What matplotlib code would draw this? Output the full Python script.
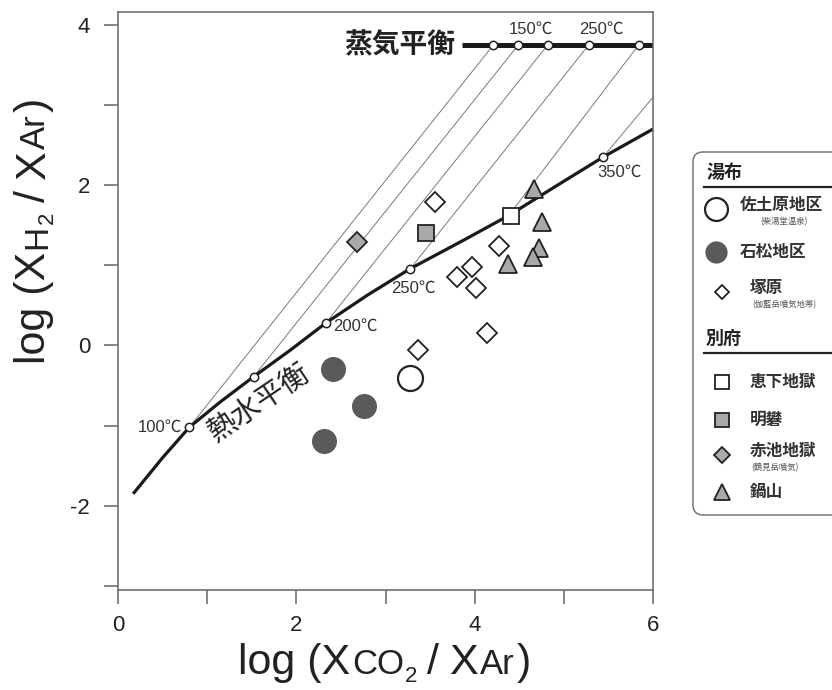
import numpy as np
import matplotlib
matplotlib.use("Agg")
import matplotlib.pyplot as plt
from matplotlib.patches import FancyBboxPatch

plt.rcParams['font.family'] = ['Liberation Sans', 'Noto Sans CJK JP', 'DejaVu Sans']
JP = ['Noto Sans CJK JP', 'DejaVu Sans']
W, H = 832, 690

# hydrothermal equilibrium curve
hydro_x = [0.17, 0.50, 0.80, 1.14, 1.52, 1.93, 2.33, 2.80, 3.28, 3.87, 4.38, 4.90, 5.44, 6.00]
hydro_y = [-1.85, -1.40, -1.02, -0.71, -0.39, -0.06, 0.28, 0.63, 0.96, 1.31, 1.62, 1.98, 2.35, 2.70]

# temperature points on both equilibria
temps = [100, 150, 200, 250, 300, 350]
hyd_tx = [0.80, 1.52, 2.33, 3.28, 4.38, 5.44]
hyd_ty = [-1.02, -0.39, 0.28, 0.96, 1.62, 2.35]
steam_tx = [4.21, 4.49, 4.82, 5.28, 5.84, 6.49]
steam_y = 3.75
steam_line_x = [3.86, 6.0]

# samples
sadohara_x, sadohara_y = [3.28], [-0.40]
ishimatsu_x, ishimatsu_y = [2.41, 2.76, 2.31], [-0.29, -0.76, -1.19]
tsukahara_x = [3.55, 4.27, 3.97, 3.80, 4.01, 3.36, 4.14]
tsukahara_y = [1.79, 1.24, 0.98, 0.86, 0.72, -0.05, 0.15]
ekeshita_x, ekeshita_y = [4.41], [1.62]
myoban_x, myoban_y = [3.45], [1.40]
akaike_x, akaike_y = [2.68], [1.29]
nabeyama_x = [4.67, 4.75, 4.72, 4.65, 4.37]
nabeyama_y = [1.95, 1.54, 1.22, 1.10, 1.02]

xticks = [0, 1, 2, 3, 4, 5, 6]
xticklabels = ['0', '', '2', '', '4', '', '6']
yticks = [-3, -2, -1, 0, 1, 2, 3, 4]
yticklabels = ['', '-2', '', '0', '', '2', '', '4']

EC = '#222222'
GRAY = '#a9a9a9'
styles = {
    'sadohara': dict(marker='o', ms=18, mfc='white', mec=EC, mew=1.6),
    'ishimatsu': dict(marker='o', ms=17, mfc='#5a5a5a', mec='#5a5a5a', mew=1),
    'tsukahara': dict(marker='D', ms=10, mfc='white', mec=EC, mew=1.3),
    'ekeshita': dict(marker='s', ms=11.5, mfc='white', mec=EC, mew=1.3),
    'myoban': dict(marker='s', ms=11.5, mfc=GRAY, mec=EC, mew=1.3),
    'akaike': dict(marker='D', ms=10, mfc=GRAY, mec=EC, mew=1.3),
    'nabeyama': dict(marker='^', ms=13, mfc=GRAY, mec=EC, mew=1.3),
}

fig = plt.figure(figsize=(W / 100, H / 100), dpi=100)
ax = fig.add_axes([118 / W, 1 - 590 / H, 535 / W, 578 / H])

# lines joining the two equilibria at equal temperature
for hx, hy, sx in zip(hyd_tx, hyd_ty, steam_tx):
    ax.plot([hx, sx], [hy, steam_y], color='#7a7a7a', lw=0.7, zorder=1)

ax.plot(hydro_x, hydro_y, color='#1a1a1a', lw=2.3, zorder=2, solid_capstyle='butt')
ax.plot(steam_line_x, [steam_y, steam_y], color='#1a1a1a', lw=3.6, zorder=2, solid_capstyle='butt')
ax.plot(hyd_tx, hyd_ty, ls='none', marker='o', ms=6, mfc='white', mec=EC, mew=1.1, zorder=3)
ax.plot(steam_tx, [steam_y] * len(steam_tx), ls='none', marker='o', ms=6, mfc='white',
        mec=EC, mew=1.1, zorder=3)

tcol = '#333333'
hyd_labels = {100: ((-5, 0), 'right', 'center'), 200: ((5, -2), 'left', 'center'),
              250: ((2, -14), 'center', 'center'), 350: ((12, -11), 'center', 'center')}
for t, hx, hy in zip(temps, hyd_tx, hyd_ty):
    if t in hyd_labels:
        off, ha, va = hyd_labels[t]
        ax.annotate(f'{t}℃', (hx, hy), xytext=off, textcoords='offset points',
                    ha=ha, va=va, fontsize=12, color=tcol, zorder=4)
for t, sx in zip(temps, steam_tx):
    if t in (150, 250):
        ax.annotate(f'{t}℃', (sx, steam_y), xytext=(9, 11), textcoords='offset points',
                    ha='center', va='center', fontsize=12, color=tcol, zorder=4)

ax.text(3.16, steam_y, '蒸気平衡', family=JP, fontsize=20, fontweight='bold',
        ha='center', va='center', color='#222222')
ax.text(1.58, -0.72, '熱水平衡', family=JP, fontsize=21, rotation=34,
        ha='center', va='center', color='#222222')

series = [
    ('sadohara', sadohara_x, sadohara_y),
    ('ishimatsu', ishimatsu_x, ishimatsu_y),
    ('tsukahara', tsukahara_x, tsukahara_y),
    ('ekeshita', ekeshita_x, ekeshita_y),
    ('myoban', myoban_x, myoban_y),
    ('akaike', akaike_x, akaike_y),
    ('nabeyama', nabeyama_x, nabeyama_y),
]
for key, xs, ys in series:
    ax.plot(xs, ys, ls='none', zorder=5, **styles[key])

ax.set_xlim(0, 6)
ax.set_ylim(-3.05, 4.16)
ax.set_xticks(xticks)
ax.set_xticklabels(xticklabels)
ax.set_yticks(yticks)
ax.set_yticklabels(yticklabels)
ax.tick_params(direction='out', length=10, width=1.1, color='#666666', labelsize=16,
               labelcolor='#222222', pad=8)
ax.tick_params(axis='y', pad=10)
for sp in ax.spines.values():
    sp.set_color('#666666')
    sp.set_linewidth(1.1)

# axis titles: small letters sit on the baseline, only the "2" is a subscript
renderer = fig.canvas.get_renderer()


def rich_label(x0, y0, pieces, rot=0):
    # x0, y0: start of baseline in pixels from the top-left
    pos = 0.0
    for s, size, dy, gap in pieces:
        pos += gap * 100 / 72
        tmp = fig.text(0, 0, s, fontsize=size)
        w = tmp.get_window_extent(renderer).width
        tmp.remove()
        d = dy * 100 / 72
        if rot == 0:
            px, py = x0 + pos, y0 - d
        else:
            px, py = x0 - d, y0 - pos
        fig.text(px / W, 1 - py / H, s, fontsize=size, rotation=rot, rotation_mode='anchor',
                 ha='left', va='baseline', color='#222222')
        pos += w


rich_label(238, 674, [('log (X', 31, 0, 0), ('CO', 25, 0, 1.5), ('2', 16, -6, 0.8),
                      ('/', 31, 0, 7), ('X', 31, 0, 7), ('Ar', 25, 0, 1.5), (')', 31, 0, 1.5)])
rich_label(45, 364, [('log (X', 31, 0, 0), ('H', 24, -1, 2), ('2', 16, -6, 0.8),
                     ('/', 31, 0, 7), ('X', 31, 0, 7), ('Ar', 25, 0, 1.5), (')', 31, 0, 1.5)],
           rot=90)

# legend panel, laid out in figure pixels
lax = fig.add_axes([0, 0, 1, 1])
lax.set_xlim(0, W)
lax.set_ylim(H, 0)
lax.axis('off')
lax.patch.set_alpha(0)
lax.add_patch(FancyBboxPatch((693, 152), 160, 363, boxstyle='round,pad=0,rounding_size=10',
                             fc='white', ec='#777777', lw=1.1, clip_on=False))

groups = [
    ('湯布', 172, [
        ('sadohara', '佐土原地区', '(柴湯堂温泉)', 209, 16.5),
        ('ishimatsu', '石松地区', None, 252, 15),
        ('tsukahara', '塚原', '(伽藍岳噴気地帯)', 292, 7),
    ]),
    ('別府', 338, [
        ('ekeshita', '恵下地獄', None, 382, 10),
        ('myoban', '明礬', None, 420, 10),
        ('akaike', '赤池地獄', '(鶴見岳噴気)', 455, 8),
        ('nabeyama', '鍋山', None, 492, 12),
    ]),
]
for head, hy, items in groups:
    lax.text(706, hy, head, family=JP, fontsize=13, fontweight='bold', va='center',
             color='#222222')
    lax.plot([704, 832], [hy + 15, hy + 15], color='#222222', lw=1.6, clip_on=False)
    for key, label, sub, y, ms in items:
        st = dict(styles[key])
        st['ms'] = ms
        mx = 716 if st['marker'] == 'o' else 722
        lax.plot([mx], [y], ls='none', clip_on=False, **st)
        ty = y - 4 if sub else y
        lax.text(740 if key in ('sadohara', 'ishimatsu') else 750, ty, label, family=JP,
                 fontsize=12, fontweight='bold', va='center', color='#333333')
        if sub:
            lax.text(784 if key != 'akaike' else 775, y + 13, sub, family=JP, fontsize=6,
                     ha='center', va='center', color='#555555')

fig.savefig('out.png', dpi=100)
